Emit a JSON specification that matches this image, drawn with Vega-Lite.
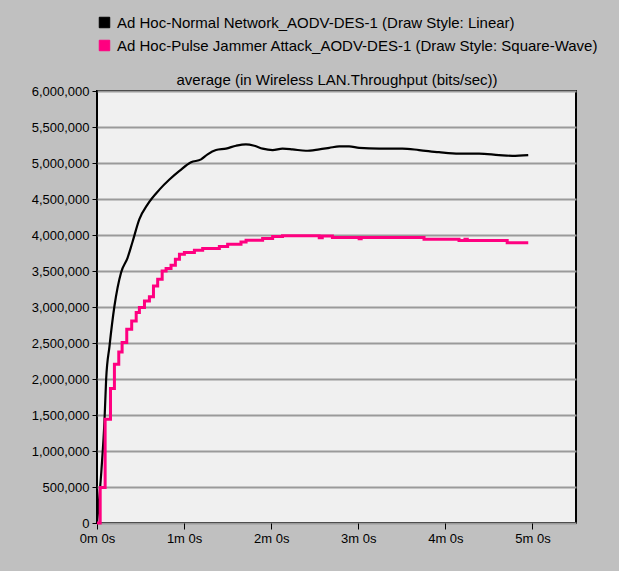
{
  "$schema": "https://vega.github.io/schema/vega-lite/v6.json",
  "autosize": {"type": "none"},
  "width": 479,
  "height": 432,
  "padding": {"left": 97, "top": 91, "right": 43, "bottom": 48},
  "background": "#c0c0c0",
  "config": {
    "view": {"fill": "#f0f0f0", "stroke": "black", "strokeWidth": 2},
    "axis": {"labelFont": "Liberation Sans", "labelFontSize": 13, "labelColor": "black", "domainColor": "black", "tickColor": "black"}
  },
  "data": {"values": [
    {"t": 0, "v": 0, "s": "Ad Hoc-Normal Network_AODV-DES-1 (Draw Style: Linear)"},
    {"t": 3.1, "v": 746000, "s": "Ad Hoc-Normal Network_AODV-DES-1 (Draw Style: Linear)"},
    {"t": 5.2, "v": 1440000, "s": "Ad Hoc-Normal Network_AODV-DES-1 (Draw Style: Linear)"},
    {"t": 6.3, "v": 1996000, "s": "Ad Hoc-Normal Network_AODV-DES-1 (Draw Style: Linear)"},
    {"t": 8.6, "v": 2454000, "s": "Ad Hoc-Normal Network_AODV-DES-1 (Draw Style: Linear)"},
    {"t": 12.0, "v": 3010000, "s": "Ad Hoc-Normal Network_AODV-DES-1 (Draw Style: Linear)"},
    {"t": 16.6, "v": 3480000, "s": "Ad Hoc-Normal Network_AODV-DES-1 (Draw Style: Linear)"},
    {"t": 21.0, "v": 3680000, "s": "Ad Hoc-Normal Network_AODV-DES-1 (Draw Style: Linear)"},
    {"t": 24.4, "v": 3900000, "s": "Ad Hoc-Normal Network_AODV-DES-1 (Draw Style: Linear)"},
    {"t": 29.2, "v": 4220000, "s": "Ad Hoc-Normal Network_AODV-DES-1 (Draw Style: Linear)"},
    {"t": 35.0, "v": 4430000, "s": "Ad Hoc-Normal Network_AODV-DES-1 (Draw Style: Linear)"},
    {"t": 43.0, "v": 4630000, "s": "Ad Hoc-Normal Network_AODV-DES-1 (Draw Style: Linear)"},
    {"t": 49.9, "v": 4770000, "s": "Ad Hoc-Normal Network_AODV-DES-1 (Draw Style: Linear)"},
    {"t": 56.8, "v": 4890000, "s": "Ad Hoc-Normal Network_AODV-DES-1 (Draw Style: Linear)"},
    {"t": 64.8, "v": 5010000, "s": "Ad Hoc-Normal Network_AODV-DES-1 (Draw Style: Linear)"},
    {"t": 71.7, "v": 5050000, "s": "Ad Hoc-Normal Network_AODV-DES-1 (Draw Style: Linear)"},
    {"t": 76.2, "v": 5120000, "s": "Ad Hoc-Normal Network_AODV-DES-1 (Draw Style: Linear)"},
    {"t": 82.0, "v": 5180000, "s": "Ad Hoc-Normal Network_AODV-DES-1 (Draw Style: Linear)"},
    {"t": 88.9, "v": 5200000, "s": "Ad Hoc-Normal Network_AODV-DES-1 (Draw Style: Linear)"},
    {"t": 95.8, "v": 5240000, "s": "Ad Hoc-Normal Network_AODV-DES-1 (Draw Style: Linear)"},
    {"t": 102.6, "v": 5260000, "s": "Ad Hoc-Normal Network_AODV-DES-1 (Draw Style: Linear)"},
    {"t": 108.4, "v": 5240000, "s": "Ad Hoc-Normal Network_AODV-DES-1 (Draw Style: Linear)"},
    {"t": 114.1, "v": 5200000, "s": "Ad Hoc-Normal Network_AODV-DES-1 (Draw Style: Linear)"},
    {"t": 121.0, "v": 5180000, "s": "Ad Hoc-Normal Network_AODV-DES-1 (Draw Style: Linear)"},
    {"t": 127.8, "v": 5200000, "s": "Ad Hoc-Normal Network_AODV-DES-1 (Draw Style: Linear)"},
    {"t": 134.7, "v": 5190000, "s": "Ad Hoc-Normal Network_AODV-DES-1 (Draw Style: Linear)"},
    {"t": 143.9, "v": 5170000, "s": "Ad Hoc-Normal Network_AODV-DES-1 (Draw Style: Linear)"},
    {"t": 153.1, "v": 5190000, "s": "Ad Hoc-Normal Network_AODV-DES-1 (Draw Style: Linear)"},
    {"t": 160.0, "v": 5210000, "s": "Ad Hoc-Normal Network_AODV-DES-1 (Draw Style: Linear)"},
    {"t": 166.9, "v": 5230000, "s": "Ad Hoc-Normal Network_AODV-DES-1 (Draw Style: Linear)"},
    {"t": 173.7, "v": 5230000, "s": "Ad Hoc-Normal Network_AODV-DES-1 (Draw Style: Linear)"},
    {"t": 180.6, "v": 5210000, "s": "Ad Hoc-Normal Network_AODV-DES-1 (Draw Style: Linear)"},
    {"t": 194.4, "v": 5200000, "s": "Ad Hoc-Normal Network_AODV-DES-1 (Draw Style: Linear)"},
    {"t": 210.4, "v": 5200000, "s": "Ad Hoc-Normal Network_AODV-DES-1 (Draw Style: Linear)"},
    {"t": 221.9, "v": 5180000, "s": "Ad Hoc-Normal Network_AODV-DES-1 (Draw Style: Linear)"},
    {"t": 235.6, "v": 5150000, "s": "Ad Hoc-Normal Network_AODV-DES-1 (Draw Style: Linear)"},
    {"t": 249.4, "v": 5130000, "s": "Ad Hoc-Normal Network_AODV-DES-1 (Draw Style: Linear)"},
    {"t": 263.2, "v": 5130000, "s": "Ad Hoc-Normal Network_AODV-DES-1 (Draw Style: Linear)"},
    {"t": 276.9, "v": 5110000, "s": "Ad Hoc-Normal Network_AODV-DES-1 (Draw Style: Linear)"},
    {"t": 286.1, "v": 5100000, "s": "Ad Hoc-Normal Network_AODV-DES-1 (Draw Style: Linear)"},
    {"t": 297.1, "v": 5110000, "s": "Ad Hoc-Normal Network_AODV-DES-1 (Draw Style: Linear)"},
    {"t": 0, "v": 0, "s": "Ad Hoc-Pulse Jammer Attack_AODV-DES-1 (Draw Style: Square-Wave)"},
    {"t": 2.2, "v": 492000, "s": "Ad Hoc-Pulse Jammer Attack_AODV-DES-1 (Draw Style: Square-Wave)"},
    {"t": 5.6, "v": 1440000, "s": "Ad Hoc-Pulse Jammer Attack_AODV-DES-1 (Draw Style: Square-Wave)"},
    {"t": 9.3, "v": 1867000, "s": "Ad Hoc-Pulse Jammer Attack_AODV-DES-1 (Draw Style: Square-Wave)"},
    {"t": 12.0, "v": 2204000, "s": "Ad Hoc-Pulse Jammer Attack_AODV-DES-1 (Draw Style: Square-Wave)"},
    {"t": 15.0, "v": 2375000, "s": "Ad Hoc-Pulse Jammer Attack_AODV-DES-1 (Draw Style: Square-Wave)"},
    {"t": 17.3, "v": 2506000, "s": "Ad Hoc-Pulse Jammer Attack_AODV-DES-1 (Draw Style: Square-Wave)"},
    {"t": 20.5, "v": 2690000, "s": "Ad Hoc-Pulse Jammer Attack_AODV-DES-1 (Draw Style: Square-Wave)"},
    {"t": 23.9, "v": 2806000, "s": "Ad Hoc-Pulse Jammer Attack_AODV-DES-1 (Draw Style: Square-Wave)"},
    {"t": 27.0, "v": 2922000, "s": "Ad Hoc-Pulse Jammer Attack_AODV-DES-1 (Draw Style: Square-Wave)"},
    {"t": 29.2, "v": 2992000, "s": "Ad Hoc-Pulse Jammer Attack_AODV-DES-1 (Draw Style: Square-Wave)"},
    {"t": 32.7, "v": 3083000, "s": "Ad Hoc-Pulse Jammer Attack_AODV-DES-1 (Draw Style: Square-Wave)"},
    {"t": 36.1, "v": 3144000, "s": "Ad Hoc-Pulse Jammer Attack_AODV-DES-1 (Draw Style: Square-Wave)"},
    {"t": 38.9, "v": 3292000, "s": "Ad Hoc-Pulse Jammer Attack_AODV-DES-1 (Draw Style: Square-Wave)"},
    {"t": 41.8, "v": 3385000, "s": "Ad Hoc-Pulse Jammer Attack_AODV-DES-1 (Draw Style: Square-Wave)"},
    {"t": 44.9, "v": 3500000, "s": "Ad Hoc-Pulse Jammer Attack_AODV-DES-1 (Draw Style: Square-Wave)"},
    {"t": 47.6, "v": 3533000, "s": "Ad Hoc-Pulse Jammer Attack_AODV-DES-1 (Draw Style: Square-Wave)"},
    {"t": 51.0, "v": 3579000, "s": "Ad Hoc-Pulse Jammer Attack_AODV-DES-1 (Draw Style: Square-Wave)"},
    {"t": 54.0, "v": 3663000, "s": "Ad Hoc-Pulse Jammer Attack_AODV-DES-1 (Draw Style: Square-Wave)"},
    {"t": 56.8, "v": 3732000, "s": "Ad Hoc-Pulse Jammer Attack_AODV-DES-1 (Draw Style: Square-Wave)"},
    {"t": 60.2, "v": 3756000, "s": "Ad Hoc-Pulse Jammer Attack_AODV-DES-1 (Draw Style: Square-Wave)"},
    {"t": 67.1, "v": 3788000, "s": "Ad Hoc-Pulse Jammer Attack_AODV-DES-1 (Draw Style: Square-Wave)"},
    {"t": 72.8, "v": 3811000, "s": "Ad Hoc-Pulse Jammer Attack_AODV-DES-1 (Draw Style: Square-Wave)"},
    {"t": 84.3, "v": 3839000, "s": "Ad Hoc-Pulse Jammer Attack_AODV-DES-1 (Draw Style: Square-Wave)"},
    {"t": 90.0, "v": 3871000, "s": "Ad Hoc-Pulse Jammer Attack_AODV-DES-1 (Draw Style: Square-Wave)"},
    {"t": 99.2, "v": 3903000, "s": "Ad Hoc-Pulse Jammer Attack_AODV-DES-1 (Draw Style: Square-Wave)"},
    {"t": 102.7, "v": 3926000, "s": "Ad Hoc-Pulse Jammer Attack_AODV-DES-1 (Draw Style: Square-Wave)"},
    {"t": 114.1, "v": 3950000, "s": "Ad Hoc-Pulse Jammer Attack_AODV-DES-1 (Draw Style: Square-Wave)"},
    {"t": 121.0, "v": 3978000, "s": "Ad Hoc-Pulse Jammer Attack_AODV-DES-1 (Draw Style: Square-Wave)"},
    {"t": 127.8, "v": 3989000, "s": "Ad Hoc-Pulse Jammer Attack_AODV-DES-1 (Draw Style: Square-Wave)"},
    {"t": 153.1, "v": 3961000, "s": "Ad Hoc-Pulse Jammer Attack_AODV-DES-1 (Draw Style: Square-Wave)"},
    {"t": 155.2, "v": 3986000, "s": "Ad Hoc-Pulse Jammer Attack_AODV-DES-1 (Draw Style: Square-Wave)"},
    {"t": 162.2, "v": 3964000, "s": "Ad Hoc-Pulse Jammer Attack_AODV-DES-1 (Draw Style: Square-Wave)"},
    {"t": 180.6, "v": 3947000, "s": "Ad Hoc-Pulse Jammer Attack_AODV-DES-1 (Draw Style: Square-Wave)"},
    {"t": 182.0, "v": 3964000, "s": "Ad Hoc-Pulse Jammer Attack_AODV-DES-1 (Draw Style: Square-Wave)"},
    {"t": 225.3, "v": 3940000, "s": "Ad Hoc-Pulse Jammer Attack_AODV-DES-1 (Draw Style: Square-Wave)"},
    {"t": 249.4, "v": 3922000, "s": "Ad Hoc-Pulse Jammer Attack_AODV-DES-1 (Draw Style: Square-Wave)"},
    {"t": 253.5, "v": 3940000, "s": "Ad Hoc-Pulse Jammer Attack_AODV-DES-1 (Draw Style: Square-Wave)"},
    {"t": 255.1, "v": 3922000, "s": "Ad Hoc-Pulse Jammer Attack_AODV-DES-1 (Draw Style: Square-Wave)"},
    {"t": 282.6, "v": 3894000, "s": "Ad Hoc-Pulse Jammer Attack_AODV-DES-1 (Draw Style: Square-Wave)"},
    {"t": 297.1, "v": 3894000, "s": "Ad Hoc-Pulse Jammer Attack_AODV-DES-1 (Draw Style: Square-Wave)"}
  ]},
  "encoding": {
    "y": {"field": "v", "type": "quantitative", "scale": {"domain": [0, 6000000], "nice": false},
      "axis": {"title": null, "values": [0, 500000, 1000000, 1500000, 2000000, 2500000, 3000000, 3500000, 4000000, 4500000, 5000000, 5500000, 6000000], "format": ",d", "grid": true, "gridColor": "#9a9a9a", "gridWidth": 2, "tickSize": 5, "labelPadding": 3, "domain": false}},
    "color": {"field": "s", "type": "nominal",
      "scale": {"domain": ["Ad Hoc-Normal Network_AODV-DES-1 (Draw Style: Linear)", "Ad Hoc-Pulse Jammer Attack_AODV-DES-1 (Draw Style: Square-Wave)"], "range": ["#000000", "#ff0080"]},
      "legend": {"title": null, "orient": "none", "legendX": 0, "legendY": -76, "symbolType": "square", "symbolSize": 110, "labelFont": "Liberation Sans", "labelFontSize": 15, "labelColor": "black", "rowPadding": 7, "labelOffset": 5, "labelLimit": 600,
        "encode": {"symbols": {"update": {"fill": {"scale": "color", "field": "value"}, "stroke": {"value": "black"}, "strokeWidth": {"value": 1}, "opacity": {"value": 1}}}}}}
  },
  "layer": [
    {"transform": [{"filter": "datum.s === 'Ad Hoc-Normal Network_AODV-DES-1 (Draw Style: Linear)'"}],
      "mark": {"type": "line", "strokeWidth": 2.2, "interpolate": "monotone"},
      "encoding": {"x": {"field": "t", "type": "quantitative", "scale": {"domain": [0, 330], "nice": false, "zero": false},
        "axis": {"orient": "bottom", "title": null, "values": [0, 60, 120, 180, 240, 300], "labelExpr": "floor(datum.value / 60) + 'm 0s'", "grid": false, "tickSize": 6, "labelPadding": 3, "labelFlush": false, "domain": false}}}},
    {"transform": [{"filter": "datum.s === 'Ad Hoc-Pulse Jammer Attack_AODV-DES-1 (Draw Style: Square-Wave)'"}],
      "mark": {"type": "line", "strokeWidth": 3, "interpolate": "step-after"},
      "encoding": {"x": {"field": "t", "type": "quantitative", "scale": {"domain": [0, 330], "nice": false, "zero": false},
        "axis": {"orient": "top", "title": "average (in Wireless LAN.Throughput (bits/sec))", "titleFont": "Liberation Sans", "titleFontSize": 15, "titleFontWeight": "normal", "titleColor": "black", "titlePadding": 4, "labels": false, "ticks": false, "domain": false, "grid": false}}}}
  ],
  "resolve": {"axis": {"x": "independent"}}
}
